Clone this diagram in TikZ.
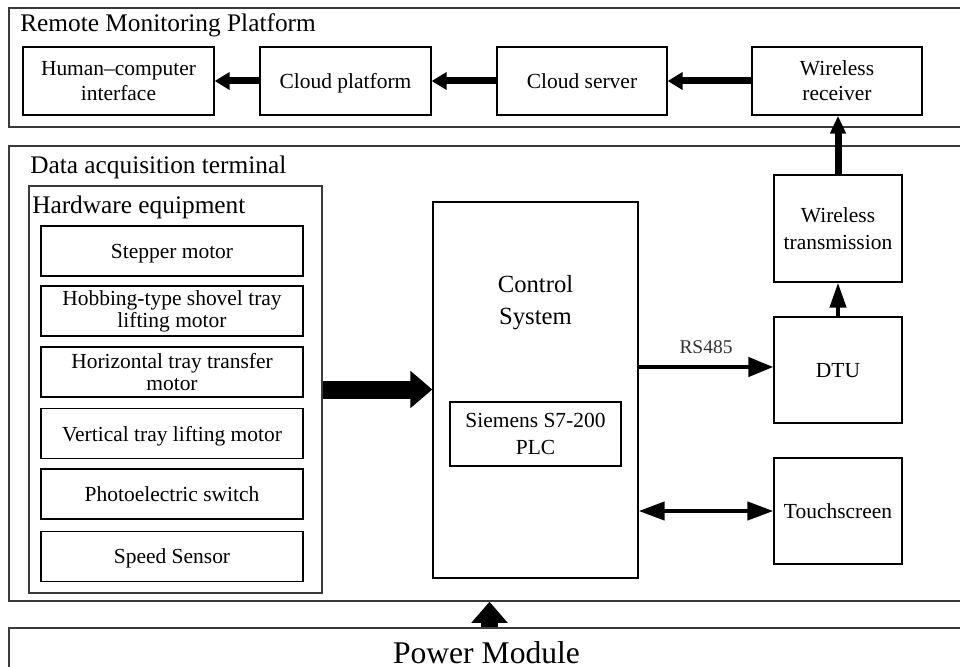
\documentclass[tikz,border=0pt]{standalone}
\usepackage{fontspec}
\setmainfont{Liberation Serif}
\usetikzlibrary{arrows.meta,calc}
\newlength\px \setlength\px{0.75pt}
\definecolor{framegray}{HTML}{3A3A3A}
\definecolor{labelgray}{HTML}{333333}
\begin{document}
\begin{tikzpicture}[x=0.75pt,y=-0.75pt,
  frame/.style={draw=framegray, line width=1.5\px, inner sep=0pt},
  box/.style={draw, line width=1.3\px, inner sep=0pt, align=center,
    font=\fontsize{16.1}{18.75}\selectfont},
  subbox/.style={box, minimum width=262\px, minimum height=50\px,
    font=\fontsize{16.1}{16.5}\selectfont},
  sidebox/.style={box, minimum width=128\px, minimum height=106\px,
    font=\fontsize{16.1}{20.25}\selectfont},
  topbox/.style={box, minimum height=68\px},
  oneline/.style={text depth=0pt},
  title/.style={anchor=base west, inner sep=0pt, font=\fontsize{19}{22}\selectfont},
  thickarrow/.style={line width=5.25pt, -{Triangle[length=11.25pt,width=12.75pt]}},
  thinarrow/.style={line width=3.2pt, -{Triangle[length=18.75pt,width=14.25pt]}},
]
\useasboundingbox (0,0) rectangle (960,667);
\clip (0,0) rectangle (960,667);

% frames
\node[frame, minimum width=961\px, minimum height=119\px] (rmp) at (489.5,67.5) {};
\node[frame, minimum width=961\px, minimum height=455\px] (dat) at (489.5,373.5) {};
\node[frame, minimum width=293\px, minimum height=407\px] (hw) at (175.5,389.5) {};
\node[frame, minimum width=961\px, minimum height=92\px] (pm) at (489.5,674) {};

% titles
\node[title] (rmpt) at (20,32) {Remote Monitoring Platform};
\node[title] (datt) at (30,173) {Data acquisition terminal};
\node[title] (hwt) at (32,213) {Hardware equipment};
\node[anchor=base, inner sep=0pt, font=\fontsize{23.7}{26}\selectfont] (pmt) at (486.5,663) {Power Module};

% top row
\node[topbox, minimum width=191\px] (hci) at (118.5,81) {Human--computer\\interface};
\node[topbox, oneline, minimum width=171\px] (cp) at (345.5,81) {Cloud platform};
\node[topbox, oneline, minimum width=170\px] (cs) at (582,81) {Cloud server};
\node[topbox, minimum width=170\px] (wr) at (837,81) {Wireless\\receiver};

% hardware list
\node[subbox, oneline] (s1) at (172,251) {Stepper motor};
\node[subbox] (s2) at (172,311) {Hobbing-type shovel tray\\lifting motor};
\node[subbox] (s3) at (172,372) {Horizontal tray transfer\\motor};
\node[subbox, oneline] (s4) at (172,433.5) {Vertical tray lifting motor};
\node[subbox, oneline] (s5) at (172,494) {Photoelectric switch};
\node[subbox, oneline] (s6) at (172,556.5) {Speed Sensor};

% control system
\node[box, minimum width=205\px, minimum height=376\px] (ctrl) at (535.5,390) {};
\node[inner sep=0pt, align=center, font=\fontsize{18.5}{24}\selectfont] (ctrlt) at (535.5,303) {Control\\System};
\node[box, minimum width=171\px, minimum height=64\px,
  font=\fontsize{16.1}{20.25}\selectfont] (plc) at (535.5,434) {Siemens S7-200\\PLC};

% right column
\node[sidebox, minimum height=107\px] (wt) at (838,228.5) {Wireless\\transmission};
\node[sidebox, oneline] (dtu) at (838,370) {DTU};
\node[sidebox, oneline] (ts) at (838,511) {Touchscreen};

% connectors
\draw[thickarrow] (wr.west) -- (cs.east);
\draw[thickarrow] (cs.west) -- (cp.east);
\draw[thickarrow] (cp.west) -- (hci.east);
\draw[line width=5.25pt, -{Triangle[length=13.5pt,width=11.25pt]}] (wt.north) -- (wt.north |- wr.south);
\draw[line width=3.2pt, -{Triangle[length=18.75pt,width=12pt]}] (dtu.north) -- (wt.south);
\coordinate (rsR) at ([yshift=3\px]dtu.west);
\draw[thinarrow] (rsR -| ctrl.east) -- (rsR)
  node[midway, anchor=base, yshift=14\px, inner sep=0pt, text=labelgray,
       font=\fontsize{14.6}{16}\selectfont] (rs) {RS485};
\draw[line width=3.2pt, {Triangle[length=19.5pt,width=13.5pt]}-{Triangle[length=19.5pt,width=13.5pt]}]
  (ts.west -| ctrl.east) -- (ts.west);
\draw[line width=13.5pt, -{Triangle[length=16.5pt,width=27pt]}] (hw.east) -- (hw.east -| ctrl.west);
\draw[line width=12.75pt, -{Triangle[length=15.75pt,width=26.25pt]}] (pm.north) -- (pm.north |- dat.south);
\end{tikzpicture}
\end{document}
